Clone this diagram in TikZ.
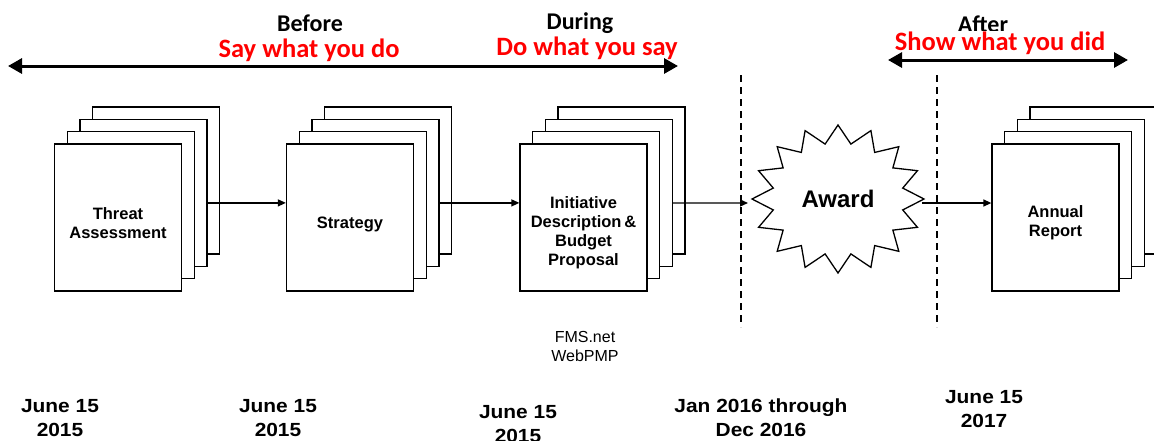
\documentclass[tikz,border=0pt]{standalone}
\usepackage{fontspec}
\setmainfont{Liberation Sans}
\newfontfamily\calib{Carlito}
\newfontfamily\datef[FakeStretch=1.1]{Liberation Sans}
\usetikzlibrary{arrows.meta}

\newcommand\docstack[3]{%
  \foreach \k in {3,2,1} {\node[page] (#1-\k) at ({#2+12.7*\k},{#3-12.3*\k}) {};}
  \node[page] (#1) at (#2,#3) {};
}

\begin{document}
\begin{tikzpicture}[x=1pt,y=-1pt,
  page/.style={draw, fill=white, line width=1.3pt, minimum width=127pt, minimum height=147pt, inner sep=0pt},
  doctext/.style={font=\fontsize{16.5}{19}\selectfont\bfseries, align=center},
  conn/.style={line width=1.3pt, -{Triangle[length=8pt,width=7pt]}},
  span/.style={line width=3pt, {Triangle[length=14pt,width=15pt]}-{Triangle[length=14pt,width=15pt]}},
  phase/.style={font=\calib\bfseries\fontsize{24}{28}\selectfont},
  motto/.style={font=\calib\bfseries\fontsize{26.5}{30}\selectfont, text=red},
  datestyle/.style={font=\datef\bfseries\fontsize{19}{24}\selectfont, align=center, anchor=base},
  divider/.style={line width=1.3pt, dash pattern=on 7pt off 5pt},
]
\useasboundingbox (0,0) rectangle (1154,440);

% dividers
\coordinate (d1t) at (741,75);  \coordinate (d1b) at (741,327);
\coordinate (d2t) at (937,75);  \coordinate (d2b) at (937,327);
\draw[divider] (d1t) -- (d1b);
\draw[divider] (d2t) -- (d2b);

% document stacks
\docstack{thr}{118}{217.5}
\docstack{str}{350}{217.5}
\docstack{ini}{583.5}{217.5}
\docstack{ann}{1055.5}{217.5}

\node[doctext] (thrT) at (118,223) {Threat\\Assessment};
\node[doctext] (strT) at (350,224) {Strategy};
\node[doctext] (iniT) at (583.5,233) {Initiative\\Description\,\&\\Budget\\Proposal};
\node[doctext] (annT) at (1055.5,223) {Annual\\Report};

% award star
\draw[line width=1.3pt, fill=white] plot[variable=\t, samples at={0,11.25,...,348.75}]
  ({838+(76+10*cos(16*\t))*cos(\t)}, {199+(65+9*cos(16*\t))*sin(\t)}) -- cycle;
\node[font=\fontsize{24}{28}\selectfont\bfseries] (award) at (838,199) {Award};
\coordinate (awL) at (748,203);
\coordinate (awR) at (922,203);

% connectors
\draw[conn] ([yshift=-10pt]thr-2.east) -- ([yshift=-10pt]thr-2.east -| str.west);
\draw[conn] ([yshift=-10pt]str-2.east) -- ([yshift=-10pt]str-2.east -| ini.west);
\draw[conn] ([yshift=-10pt]ini-2.east) -- (awL);
\draw[conn] (awR) -- (awR -| ann.west);

% span arrows
\coordinate (spanL) at (8,66);   \coordinate (spanR) at (678,66);
\coordinate (span2L) at (888,60); \coordinate (span2R) at (1128,60);
\draw[span] (spanL) -- (spanR);

% phase labels
\node[phase] (before) at (310,23) {Before};
\node[phase] (during) at (580,23) {During};
\node[phase] (after) at (983,24) {After};
\node[motto] (say) at (309,50) {Say what you do};
\node[motto] (doit) at (587,48) {Do what you say};
\node[motto, fill=white, inner sep=1pt] (show) at (1000,43) {Show what you did};
\draw[span] (span2L) -- (span2R);

% tools
\node[font=\fontsize{16}{19}\selectfont, align=center, anchor=base] (tools) at (585,361) {FMS.net\\WebPMP};

% dates
\node[datestyle] (dt1) at (60,436.5) {June 15\\2015};
\node[datestyle] (dt2) at (278,436.5) {June 15\\2015};
\node[datestyle] (dt3) at (518,442) {June 15\\2015};
\node[datestyle] (dt4) at (761,436.5) {Jan 2016 through\\Dec 2016};
\node[datestyle] (dt5) at (984,427) {June 15\\2017};
\end{tikzpicture}
\end{document}
